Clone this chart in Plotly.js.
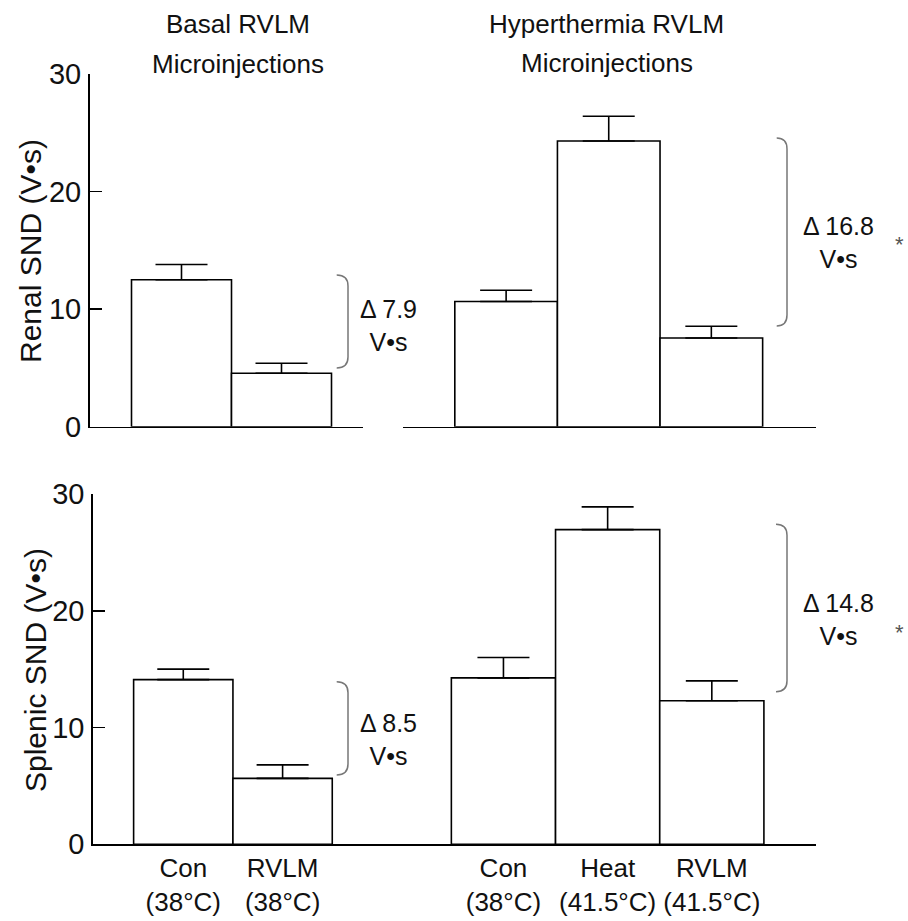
<!DOCTYPE html>
<html>
<head>
<meta charset="utf-8">
<script src="https://cdn.plot.ly/plotly-3.0.1.min.js"></script>
<style>html,body{margin:0;padding:0;background:#fff;}#chart{width:908px;height:921px;}</style>
</head>
<body>
<div id="chart"></div>
<script>
// ---- data ----
const basalCats = ['Con<br>(38°C)', 'RVLM<br>(38°C)'];
const hyperCats = ['Con<br>(38°C)', 'Heat<br>(41.5°C)', 'RVLM<br>(41.5°C)'];

const renalBasal = [12.5, 4.55];
const renalBasalErr = [1.3, 0.85];
const renalHyper = [10.65, 24.3, 7.55];
const renalHyperErr = [0.95, 2.1, 1.0];

const splenicBasal = [14.1, 5.65];
const splenicBasalErr = [0.9, 1.15];
const splenicHyper = [14.25, 26.95, 12.3];
const splenicHyperErr = [1.75, 1.95, 1.7];

const yTicks = [0, 10, 20, 30];
const groupTitles = ['Basal RVLM', 'Microinjections', 'Hyperthermia RVLM', 'Microinjections'];
const yTitles = ['Renal SND (V•s)', 'Splenic SND (V•s)'];
const deltaLabels = ['Δ 7.9<br>V•s', 'Δ 16.8<br>V•s', 'Δ 8.5<br>V•s', 'Δ 14.8<br>V•s'];

// ---- helpers ----
const W = 908, H = 921;
const px = v => v / W;
const py = v => 1 - v / H;
const FONT = 'Liberation Sans, Arial, Helvetica, sans-serif';

function barTrace(x, y, err, xa, ya) {
  return {
    type: 'bar', x: x, y: y, xaxis: xa, yaxis: ya,
    marker: {color: '#ffffff', line: {color: '#000000', width: 1.6}},
    error_y: {type: 'data', symmetric: false, array: err, arrayminus: err.map(() => 0),
              color: '#000000', thickness: 1.6, width: 26},
    hoverinfo: 'skip', showlegend: false
  };
}

const data = [
  barTrace(basalCats, renalBasal, renalBasalErr, 'x', 'y'),
  barTrace(hyperCats, renalHyper, renalHyperErr, 'x2', 'y2'),
  barTrace(basalCats, splenicBasal, splenicBasalErr, 'x3', 'y3'),
  barTrace(hyperCats, splenicHyper, splenicHyperErr, 'x4', 'y4')
];

const topDom = [py(426.7), py(74)];
const botDom = [py(844.3), py(494)];

const xBase = {showline: true, linecolor: '#000', linewidth: 1.6, ticks: '', showgrid: false,
               zeroline: false, fixedrange: true, type: 'category'};
const yBase = {range: [0, 30], tickvals: yTicks, ticks: 'inside', ticklen: 12, tickwidth: 1.6,
               tickcolor: '#000', showline: true, linecolor: '#000', linewidth: 2, showgrid: false,
               zeroline: false, fixedrange: true, ticklabelstandoff: 1,
               tickfont: {family: FONT, size: 29, color: '#111'}};

function bracket(x0, x1, yt, yb) {
  const r = 11;
  return {
    type: 'path', xref: 'paper', yref: 'paper',
    path: `M ${px(x0)},${py(yt)} Q ${px(x1)},${py(yt)} ${px(x1)},${py(yt + r)} ` +
          `L ${px(x1)},${py(yb - r)} Q ${px(x1)},${py(yb)} ${px(x0)},${py(yb)}`,
    line: {color: '#777', width: 1.5}
  };
}

function ann(text, x, y, size, extra) {
  return Object.assign({text: text, xref: 'paper', yref: 'paper', x: px(x), y: py(y),
    xanchor: 'center', yanchor: 'middle', showarrow: false,
    font: {family: FONT, size: size, color: '#111'}}, extra || {});
}

const layout = {
  width: W, height: H,
  margin: {l: 0, r: 0, t: 0, b: 0},
  paper_bgcolor: '#fff', plot_bgcolor: 'rgba(0,0,0,0)',
  bargap: 0,
  showlegend: false,
  xaxis: Object.assign({}, xBase, {domain: [px(90), px(363)], anchor: 'y', range: [-0.915, 1.815], showticklabels: false}),
  yaxis: Object.assign({}, yBase, {domain: topDom, anchor: 'x'}),
  xaxis2: Object.assign({}, xBase, {domain: [px(403), px(816)], anchor: 'y2', range: [-1.005, 3.02], showticklabels: false}),
  yaxis2: Object.assign({}, yBase, {domain: topDom, anchor: 'x2', showline: false, tickvals: [0], ticklen: 10, showticklabels: false}),
  xaxis3: Object.assign({}, xBase, {domain: [px(93.3), px(400)], anchor: 'y3', range: [-0.906, 2.182],
           showticklabels: true, tickfont: {family: FONT, size: 26, color: '#111'}}),
  yaxis3: Object.assign({}, yBase, {domain: botDom, anchor: 'x3'}),
  xaxis4: Object.assign({}, xBase, {domain: [px(400), px(816)], anchor: 'y4', range: [-0.993, 3.0],
           showticklabels: true, tickfont: {family: FONT, size: 26, color: '#111'}}),
  yaxis4: Object.assign({}, yBase, {domain: botDom, anchor: 'x4', showline: false, ticks: '', showticklabels: false}),
  shapes: [
    bracket(336.7, 348, 275, 368),
    bracket(776.7, 787, 138, 326),
    bracket(336.7, 348, 681.7, 775),
    bracket(776, 787, 524.3, 691.7)
  ],
  annotations: [
    ann(groupTitles[0], 238, 24, 26),
    ann(groupTitles[1], 238, 64, 26),
    ann(groupTitles[2], 606.7, 24, 26),
    ann(groupTitles[3], 606.7, 63, 26),
    ann(yTitles[0], 30, 251, 30, {textangle: -90}),
    ann(yTitles[1], 35, 670, 30, {textangle: -90}),
    ann(deltaLabels[0], 388, 326, 25),
    ann(deltaLabels[1], 838, 242, 25),
    ann(deltaLabels[2], 388, 739, 25),
    ann(deltaLabels[3], 838, 619, 25),
    ann('*', 899, 244, 22, {font: {family: FONT, size: 22, color: '#555'}}),
    ann('*', 899, 632, 22, {font: {family: FONT, size: 22, color: '#555'}})
  ]
};

Plotly.newPlot('chart', data, layout, {displayModeBar: false, staticPlot: true});
</script>
</body>
</html>
